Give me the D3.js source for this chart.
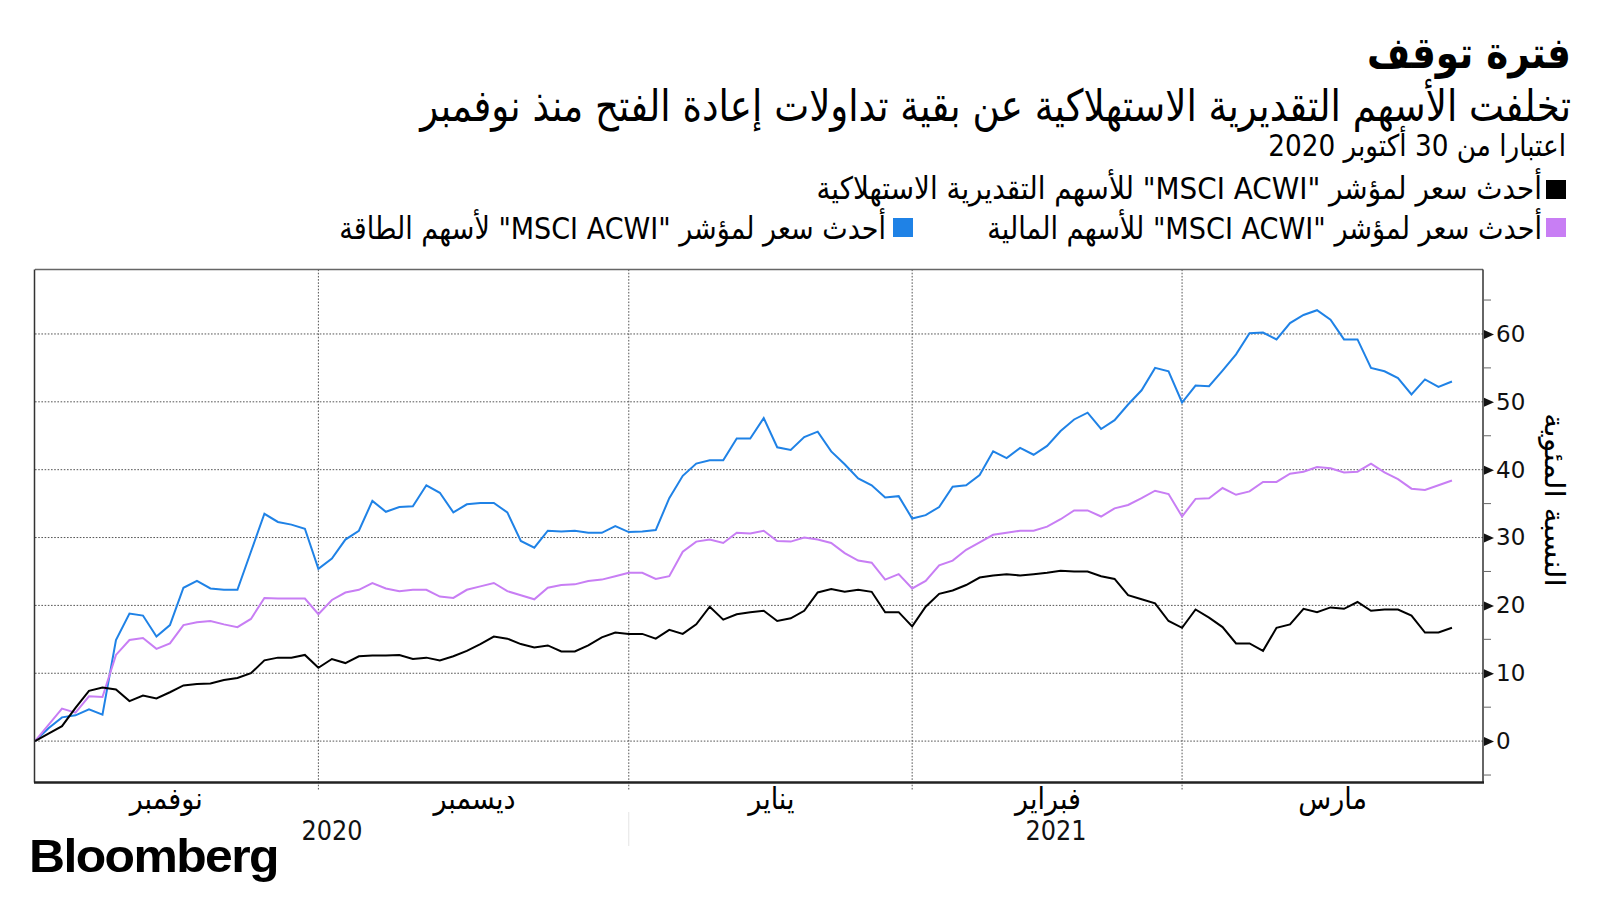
<!DOCTYPE html>
<html><head><meta charset="utf-8">
<script src="https://cdn.jsdelivr.net/npm/d3@7"></script>
<style>body{margin:0;background:#fff} svg{display:block}</style>
</head><body><svg id="c" width="1600" height="900"></svg>
<script>
// ---- data (percent change since 30 Oct 2020, one value per trading day) ----
const consumer = [0,1.1,2.2,4.9,7.4,7.9,7.6,5.9,6.7,6.3,7.2,8.2,8.4,8.5,9.0,9.3,10.0,11.9,12.3,12.3,12.7,10.8,
  12.1,11.5,12.5,12.6,12.6,12.7,12.1,12.3,11.9,12.5,13.3,14.3,15.4,15.1,14.3,13.8,14.1,13.2,13.2,14.1,15.3,
  16.0,15.8,15.8,15.1,16.4,15.8,17.2,19.8,17.9,18.7,19.0,19.2,17.7,18.1,19.2,21.9,22.4,22.0,22.3,22.0,19.0,
  19.0,16.9,19.8,21.7,22.2,23.0,24.1,24.4,24.6,24.4,24.6,24.8,25.1,25.0,25.0,24.3,23.9,21.5,20.9,20.3,17.7,
  16.7,19.4,18.2,16.8,14.4,14.4,13.3,16.7,17.2,19.5,19.0,19.7,19.5,20.5,19.2,19.4,19.4,18.5,16.0,16.0,16.7];
const financials = [0,2.4,4.8,4.2,6.6,6.5,12.7,14.9,15.2,13.6,14.4,17.1,17.5,17.7,17.2,16.8,18.0,21.1,21.0,21.0,21.0,18.7,
  20.8,21.9,22.3,23.3,22.5,22.1,22.3,22.3,21.3,21.1,22.3,22.8,23.3,22.1,21.5,20.9,22.6,23.0,23.1,23.6,23.8,
  24.3,24.8,24.8,23.9,24.3,27.9,29.4,29.7,29.2,30.7,30.6,31.0,29.5,29.4,30.0,29.7,29.2,27.7,26.6,26.3,23.8,
  24.6,22.5,23.6,25.9,26.6,28.2,29.3,30.4,30.7,31.0,31.0,31.6,32.7,34.0,34.0,33.1,34.3,34.8,35.8,36.9,36.4,
  33.1,35.7,35.8,37.3,36.3,36.8,38.2,38.2,39.4,39.7,40.4,40.2,39.6,39.7,40.9,39.6,38.6,37.2,37.0,37.7,38.4];
const energy = [0,1.9,3.5,3.8,4.7,3.9,14.9,18.8,18.5,15.4,17.1,22.6,23.6,22.5,22.3,22.3,27.9,33.5,32.3,31.9,31.3,25.4,
  26.9,29.7,31.0,35.4,33.8,34.5,34.6,37.7,36.6,33.7,34.9,35.1,35.1,33.7,29.5,28.5,31.0,30.9,31.0,30.7,30.7,
  31.7,30.8,30.9,31.1,35.8,39.1,40.9,41.4,41.4,44.6,44.6,47.6,43.3,42.9,44.8,45.6,42.7,40.8,38.7,37.7,35.9,
  36.1,32.8,33.3,34.5,37.5,37.7,39.2,42.7,41.7,43.2,42.2,43.5,45.7,47.4,48.4,46.0,47.3,49.6,51.7,55.0,54.5,
  49.9,52.4,52.3,54.6,57.0,60.1,60.2,59.2,61.6,62.8,63.5,62.1,59.2,59.2,55.0,54.5,53.5,51.1,53.3,52.2,53.0];
const monthLabels = ["نوفمبر","ديسمبر","يناير","فبراير","مارس"];
const monthEnds = [21,44,65,85];           // trading-day index of each month boundary
const yearLabels = ["2020","2021"];
const yTicks = [0,10,20,30,40,50,60];
const yMinorTicks = [-5,5,15,25,35,45,55,65];
const titleText = "فترة توقف";
const subtitleText = "تخلفت الأسهم التقديرية الاستهلاكية عن بقية تداولات إعادة الفتح منذ نوفمبر";
const dateText = "اعتبارا من 30 أكتوبر 2020";
const legendNames = ['أحدث سعر لمؤشر "MSCI ACWI" للأسهم التقديرية الاستهلاكية',
                     'أحدث سعر لمؤشر "MSCI ACWI" للأسهم المالية',
                     'أحدث سعر لمؤشر "MSCI ACWI" لأسهم الطاقة'];
const yTitle = "النسبة المئوية";

// ---- layout ----
const colors = {consumer:"#000000", financials:"#c87ef4", energy:"#1f82e6"};
const L = 35, R = 1483, T = 269.5, B = 782.5;
const x = d3.scaleLinear().domain([0, 107.3]).range([L, R]);
const y = d3.scaleLinear().domain([-6.1, 69.5]).range([B, T]);
const svg = d3.select("#c");
svg.append("rect").attr("width",1600).attr("height",900).attr("fill","#fff");

function rtlText(parent, str, o) {
  const g = parent.append("g");
  const t = g.append("text").attr("direction","rtl").attr("x",0).attr("y",0)
    .style("font-family", o.family || "'DejaVu Sans', sans-serif")
    .style("font-size", o.size + "px").style("font-weight", o.weight || "normal")
    .attr("fill", o.fill || "#000").text(str);
  const bb = t.node().getBBox();
  const s = o.width ? o.width / bb.width : (o.sx || 1);
  let ax;
  if (o.right != null) ax = o.right - s * (bb.x + bb.width);
  else if (o.left != null) ax = o.left - s * bb.x;
  else ax = o.center - s * (bb.x + bb.width / 2);
  g.attr("transform", `translate(${ax},${o.baseline}) scale(${s},1)`);
  return g;
}

// header
rtlText(svg, titleText, {right:1571, baseline:67.5, size:44, weight:"bold", width:204});
rtlText(svg, subtitleText, {right:1571, baseline:121, size:44, width:1153});
rtlText(svg, dateText, {right:1566, baseline:156, size:30, width:298});

// legend
const legendRows = [
  {name:legendNames[0], color:colors.consumer, sq:1546, right:1542, base:199, w:726, top:180},
  {name:legendNames[1], color:colors.financials, sq:1546, right:1542, base:239, w:555, top:218},
  {name:legendNames[2], color:colors.energy, sq:893, right:886, base:239, w:547, top:218}
];
legendRows.forEach(r => {
  svg.append("rect").attr("x", r.sq).attr("y", r.top).attr("width",20).attr("height",19).attr("fill", r.color);
  rtlText(svg, r.name, {right:r.right, baseline:r.base, size:31, width:r.w});
});

// gridlines
const grid = svg.append("g");
grid.selectAll("line.h").data(yTicks).join("line")
  .attr("x1", L).attr("x2", R).attr("y1", d => y(d)).attr("y2", d => y(d))
  .attr("stroke","#555").attr("stroke-width",1).attr("stroke-dasharray","1.6,1.6");
grid.selectAll("line.v").data(monthEnds).join("line")
  .attr("x1", d => x(d)).attr("x2", d => x(d)).attr("y1", T).attr("y2", B + 8)
  .attr("stroke","#555").attr("stroke-width",1).attr("stroke-dasharray","1.6,1.6");
// year separator
svg.append("line").attr("x1", x(monthEnds[1])).attr("x2", x(monthEnds[1]))
  .attr("y1", 812).attr("y2", 846).attr("stroke","#e4e4e4").attr("stroke-width",1);

// lines
const line = d3.line().x((d,i) => x(i)).y(d => y(d));
[["energy",energy],["financials",financials],["consumer",consumer]].forEach(([k,arr]) => {
  svg.append("path").datum(arr).attr("d", line).attr("fill","none")
    .attr("stroke", colors[k]).attr("stroke-width", 2).attr("stroke-linejoin","miter");
});

// frame
svg.append("line").attr("x1",L).attr("x2",R).attr("y1",T).attr("y2",T).attr("stroke","#666").attr("stroke-width",1.5);
svg.append("line").attr("x1",L-0.5).attr("x2",L-0.5).attr("y1",T).attr("y2",B).attr("stroke","#333").attr("stroke-width",1.5);
svg.append("line").attr("x1",R).attr("x2",R).attr("y1",T).attr("y2",B).attr("stroke","#333").attr("stroke-width",1.5);
svg.append("line").attr("x1",L-1).attr("x2",R+1).attr("y1",B).attr("y2",B).attr("stroke","#222").attr("stroke-width",2.5);

// y axis (right)
const yAxis = d3.axisRight(y).tickValues(yTicks).tickSize(0).tickPadding(13).tickFormat(d3.format("d"));
const ya = svg.append("g").attr("transform", `translate(${R},0)`).call(yAxis);
ya.select(".domain").remove();
ya.selectAll("text").style("font-family","'DejaVu Sans', sans-serif").style("font-size","23px").attr("fill","#111");
ya.selectAll(".tick").append("path").attr("d","M1,-4.5 L11,0 L1,4.5 Z").attr("fill","#111");
svg.append("g").selectAll("line").data(yMinorTicks).join("line")
  .attr("x1", R).attr("x2", R + 8).attr("y1", d => y(d)).attr("y2", d => y(d))
  .attr("stroke","#666").attr("stroke-width",1);
const yt = svg.append("g").attr("transform","translate(1545,500) rotate(90)");
rtlText(yt, yTitle, {center:0, baseline:0, size:28, width:174});

// x labels
const labelBounds = [-1.7, ...monthEnds, x.domain()[1]];
monthLabels.forEach((m,i) => {
  rtlText(svg, m, {center: x((labelBounds[i] + labelBounds[i+1]) / 2), baseline:809, size:30, sx:0.9});
});
const yearBounds = [[0, monthEnds[1]], [monthEnds[1], x.domain()[1]]];
yearLabels.forEach((yr,i) => {
  const g = svg.append("g");
  const t = g.append("text").attr("x", 0).attr("y", 0).attr("text-anchor","middle")
    .style("font-family","'DejaVu Sans', sans-serif").style("font-size","26px").attr("fill","#111").text(yr);
  const w = t.node().getBBox().width;
  g.attr("transform", `translate(${x((yearBounds[i][0] + yearBounds[i][1]) / 2)},840) scale(${61 / w},1)`);
});

// logo
const lg = svg.append("g");
const lt = lg.append("text").attr("x",0).attr("y",0).style("font-family","'Liberation Sans', Arial, sans-serif")
  .style("font-size","47px").style("font-weight","bold").style("letter-spacing","-1.5px").text("Bloomberg");
const lbb = lt.node().getBBox();
const ls = 249 / lbb.width;
lg.attr("transform", `translate(${29 - ls*lbb.x},872) scale(${ls},1)`);
</script>
</body></html>
